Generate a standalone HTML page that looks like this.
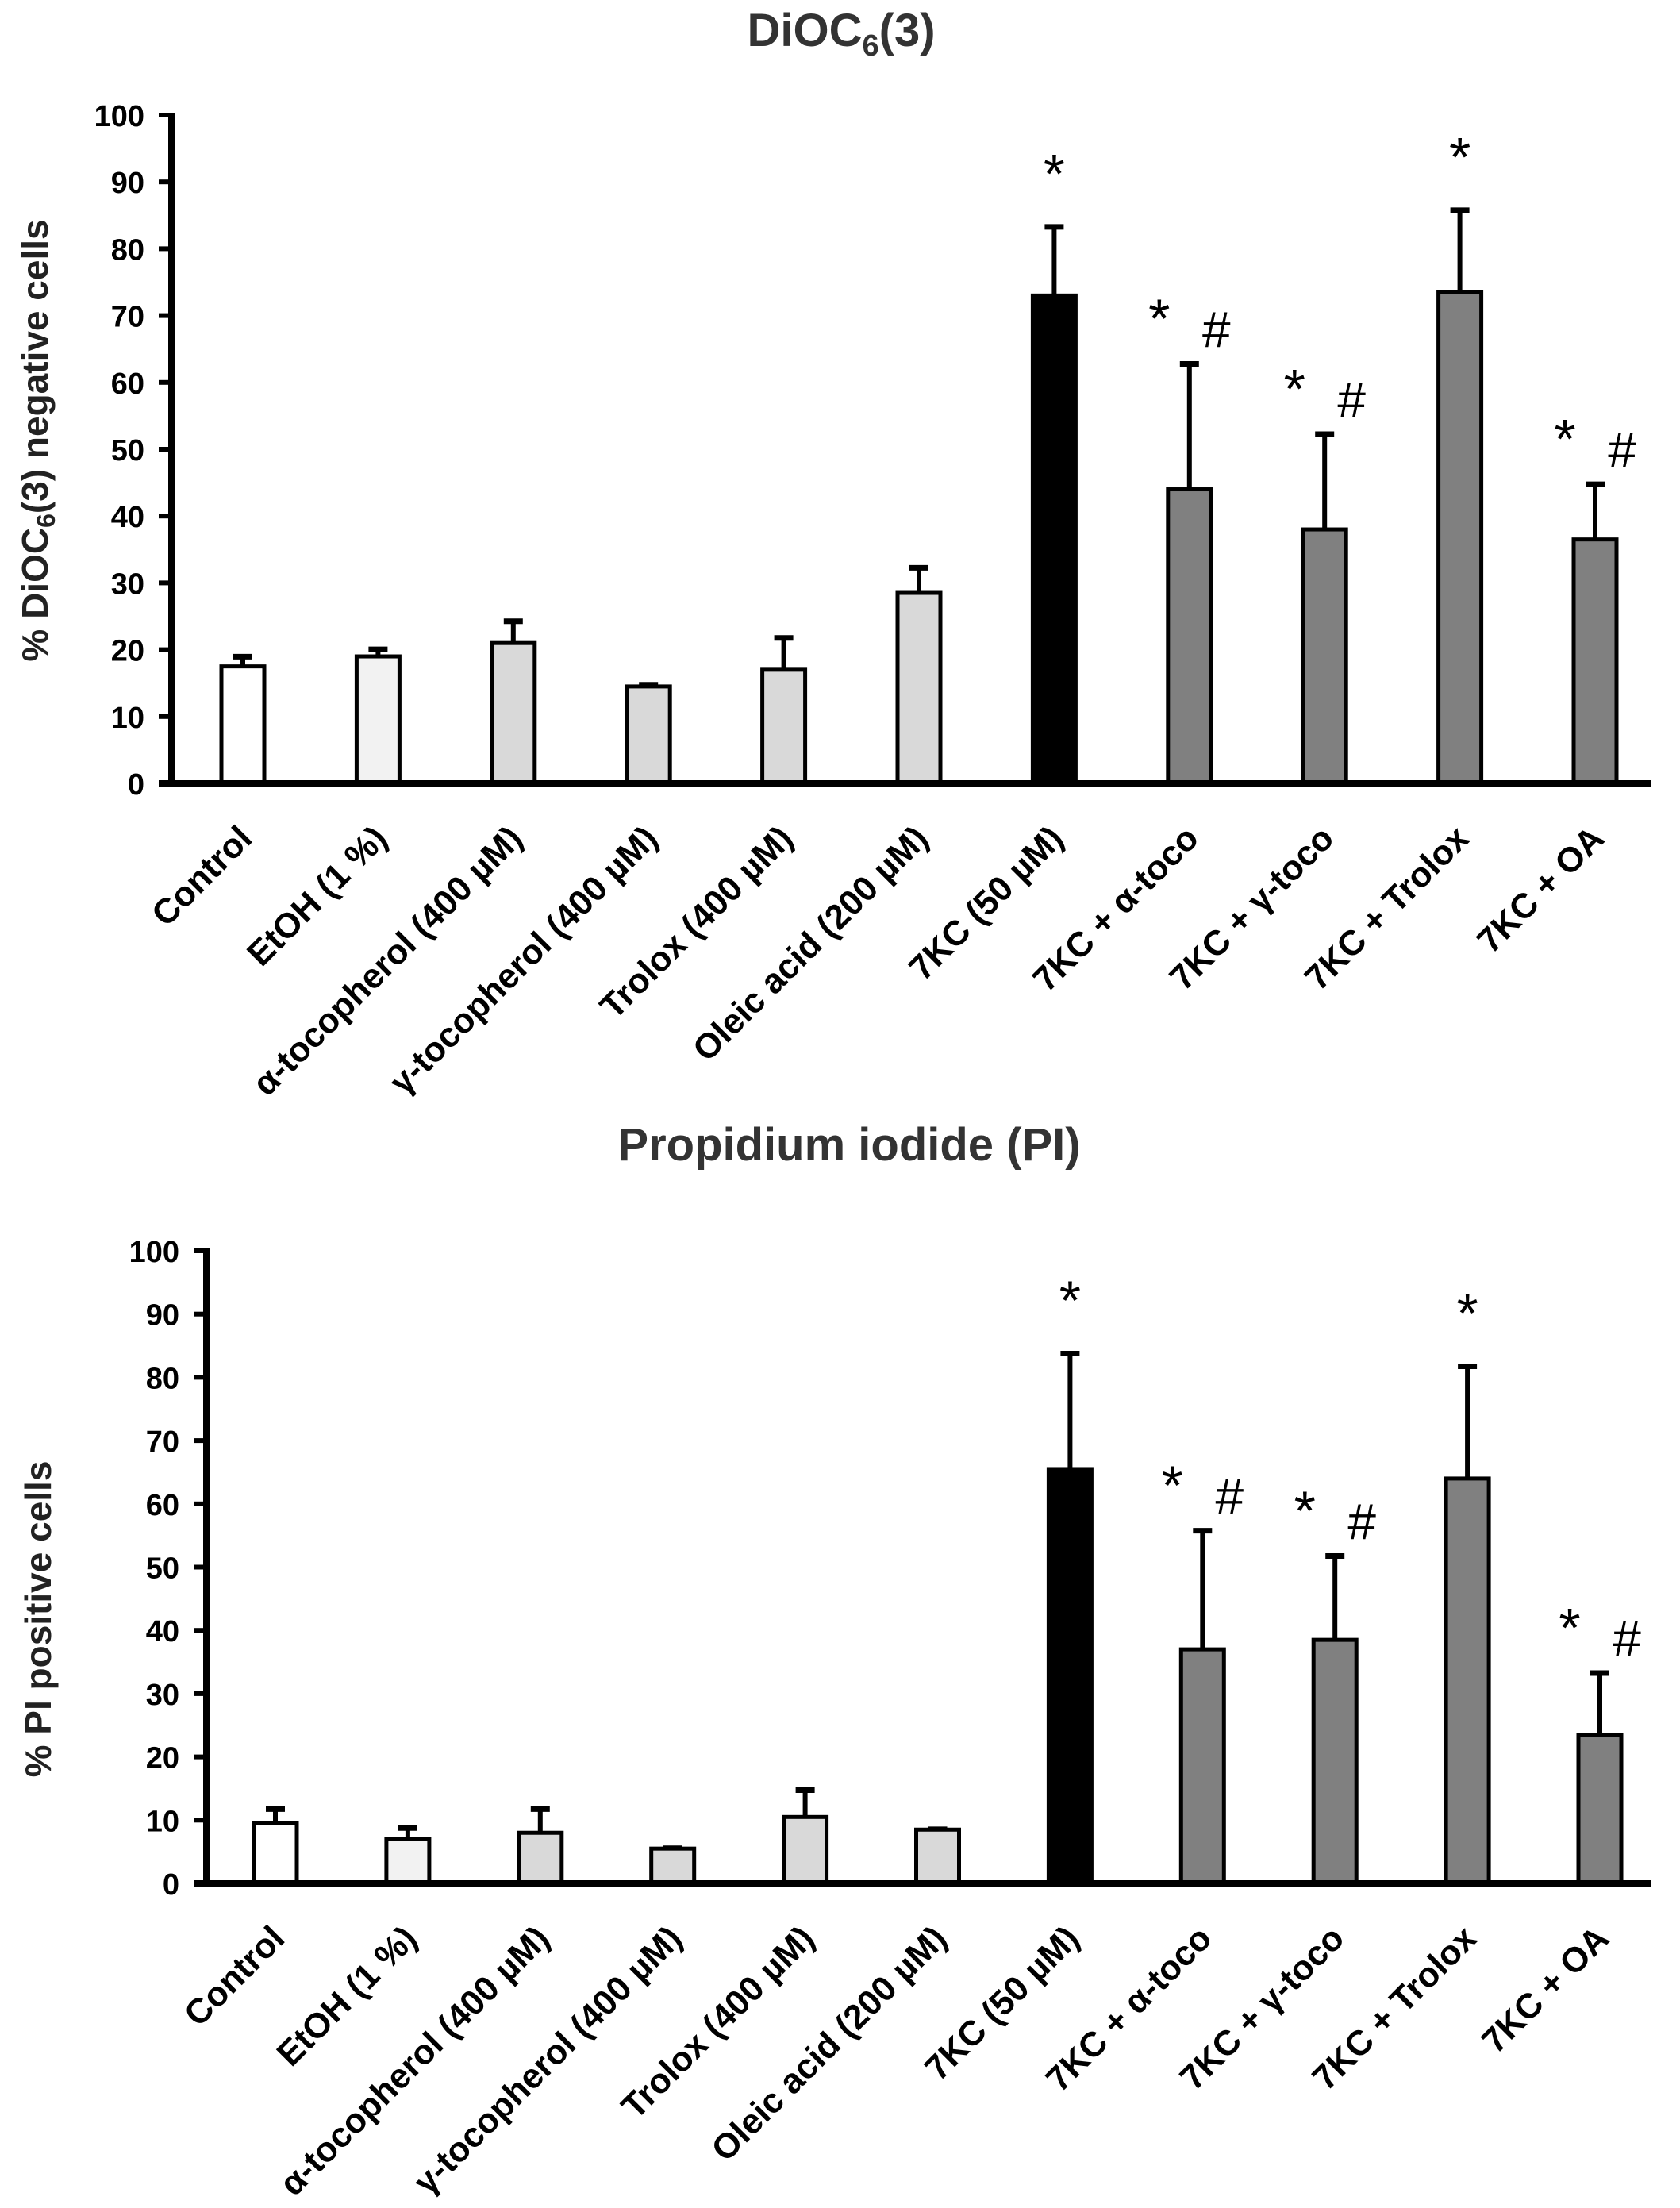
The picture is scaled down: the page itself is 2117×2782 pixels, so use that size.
<!DOCTYPE html>
<html><head><meta charset="utf-8"><style>
html,body{margin:0;padding:0;background:#fff}
svg{display:block}
text{font-family:"Liberation Sans",sans-serif}
</style></head><body>
<svg id="fig" width="2117" height="2782" viewBox="0 0 2117 2782" xmlns="http://www.w3.org/2000/svg"></svg>
<script>
const categories = ["Control","EtOH (1 %)","\u03b1-tocopherol (400 \u00b5M)","\u03b3-tocopherol (400 \u00b5M)","Trolox (400 \u00b5M)","Oleic acid (200 \u00b5M)","7KC (50 \u00b5M)","7KC + \u03b1-toco","7KC + \u03b3-toco","7KC + Trolox","7KC + OA"];
const dioValues = [17.5,19,21,14.5,17,28.5,73,44,38,73.5,36.5];
const dioErrors = [1.7,1.3,3.5,0.5,5,4,10.5,19,14.5,12.5,8.5];
const piValues = [9.5,7,8,5.5,10.5,8.5,65.5,37,38.5,64,23.5];
const piErrors = [2.5,2,4,0.3,4.5,0.3,18.5,19,13.5,18,10];
const starFlags = [0,0,0,0,0,0,1,1,1,1,1];
const hashFlags = [0,0,0,0,0,0,0,1,1,0,1];
const barColors = ["#ffffff","#f2f2f2","#d9d9d9","#d9d9d9","#d9d9d9","#d9d9d9","#000000","#808080","#808080","#808080","#808080"];
const yTicks = [0,10,20,30,40,50,60,70,80,90,100];

const NS="http://www.w3.org/2000/svg";
const svg=document.getElementById('fig');
function mk(tag,attrs,parent,txt){const e=document.createElementNS(NS,tag);for(const k in attrs)e.setAttribute(k,attrs[k]);if(txt!==undefined)e.textContent=txt;(parent||svg).appendChild(e);return e;}

function chart(cfg){
  const g=mk('g',{});
  
  
  const y=v=>cfg.y0-(v/100)*(cfg.y0-cfg.y100);
  const x=i=>cfg.x0+i*cfg.step;
  const t=mk('text',{x:cfg.titleX,y:cfg.titleY,'text-anchor':'middle','font-size':58,'font-weight':'bold',fill:'#333'},g);
  
  
  t.innerHTML=cfg.title;
  const yt=mk('text',{transform:`translate(${cfg.ytX},${cfg.ytY}) rotate(-90)`,'text-anchor':'middle','font-size':46,'font-weight':'bold',fill:'#222'},g);
  
  
  yt.innerHTML=cfg.ytitle;
  yTicks.forEach(v=>{
    const tk=mk('line',{x1:cfg.ax-16,x2:cfg.ax,y1:y(v),y2:y(v),stroke:'#000','stroke-width':6},g);
    
    
    const tl=mk('text',{x:cfg.ax-34,y:y(v)+14,'text-anchor':'end','font-size':38,'font-weight':'bold',fill:'#000'},g,String(v));
    
    
  });
  categories.forEach((c,i)=>{
    const cx=x(i),v=cfg.values[i],e=cfg.errors[i],w=54;
    const el=mk('line',{x1:cx,x2:cx,y1:y(v),y2:y(v+e),stroke:'#000','stroke-width':6},g);
    
    
    const cap=mk('line',{x1:cx-12,x2:cx+12,y1:y(v+e)+2,y2:y(v+e)+2,stroke:'#000','stroke-width':7},g);
    
    
    const r=mk('rect',{x:cx-w/2,y:y(v),width:w,height:y(0)-y(v),fill:barColors[i],stroke:'#000','stroke-width':5},g);
    
    
    const lb=mk('text',{transform:`translate(${cx+14},${cfg.y0+72}) rotate(-45)`,'text-anchor':'end','font-size':44,'font-weight':'bold',fill:'#000'},g,c);
    
    
    if(starFlags[i]){
      const sx=hashFlags[i]?cx-38:cx;
      const st=mk('text',{x:sx,y:y(v+e)-cfg.annOff+(hashFlags[i]?14:4),'text-anchor':'middle','font-size':70,'font-family':'Liberation Serif, serif',fill:'#000'},g,'*');
      
      
    }
    if(hashFlags[i]){
      const hs=mk('text',{x:cx+34,y:y(v+e)-cfg.annOff+26,'text-anchor':'middle','font-size':64,'font-family':'Liberation Serif, serif',fill:'#000'},g,'#');
      
      
    }
  });
  const ya=mk('line',{x1:cfg.ax,x2:cfg.ax,y1:cfg.y100-3,y2:cfg.y0+3,stroke:'#000','stroke-width':8},g);
  
  
  const xa=mk('line',{x1:cfg.ax-16,x2:cfg.xEnd,y1:cfg.y0,y2:cfg.y0,stroke:'#000','stroke-width':8},g);
  
  
}

chart({name:'dioc6-chart',title:'DiOC<tspan font-size="38" dy="12">6</tspan><tspan dy="-12">(3)</tspan>',titleX:1060,titleY:58,
  ytitle:'%  DiOC<tspan font-size="32" dy="9">6</tspan><tspan dy="-9">(3) negative cells</tspan>',ytX:60,ytY:555,
  ax:216,y0:987,y100:145,x0:306,step:170.4,xEnd:2081,values:dioValues,errors:dioErrors,annOff:45});
chart({name:'pi-chart',title:'Propidium iodide (PI)',titleX:1070,titleY:1462,
  ytitle:'%  PI positive cells',ytX:64,ytY:2040,
  ax:260,y0:2373,y100:1576,x0:347,step:166.9,xEnd:2081,values:piValues,errors:piErrors,annOff:45});
</script>
</body></html>
